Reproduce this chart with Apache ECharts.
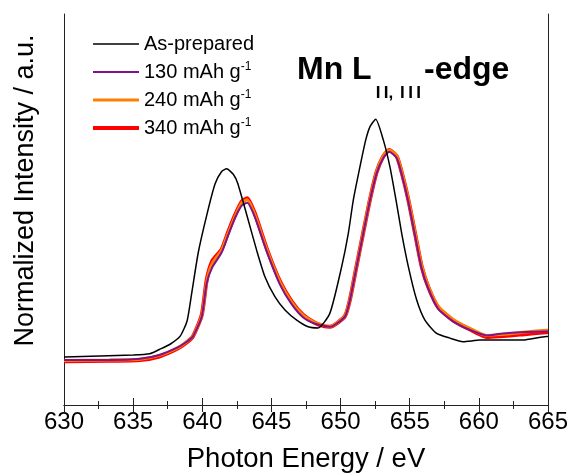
<!DOCTYPE html>
<html>
<head>
<meta charset="utf-8">
<script src="https://cdn.jsdelivr.net/npm/echarts@6/dist/echarts.min.js"></script>
<style>
  html, body { margin: 0; padding: 0; background: #fff; }
  #xasChart { width: 571px; height: 473px; }
</style>
</head>
<body>
<div id="xasChart"></div>
<script>
// As-prepared (black) — energy / intensity
const energyPristine = [630.0, 635.0, 636.2, 636.9, 637.7, 638.4, 638.9, 639.23, 639.71, 640.32, 640.92, 641.40, 641.76, 642.24, 642.56, 643.25, 643.93, 644.53, 645.25, 645.98, 646.83, 647.66, 648.37, 649.23, 650.08, 650.56, 650.92, 651.40, 651.82, 652.13, 652.54, 653.09, 653.57, 654.01, 654.42, 654.90, 655.50, 656.10, 656.95, 657.91, 658.85, 660.08, 660.59, 663.19, 664.90, 665.0]
const intPristine = [0.123, 0.128, 0.131, 0.142, 0.156, 0.176, 0.215, 0.285, 0.390, 0.485, 0.565, 0.597, 0.604, 0.590, 0.567, 0.482, 0.396, 0.328, 0.277, 0.243, 0.217, 0.200, 0.197, 0.235, 0.354, 0.439, 0.524, 0.609, 0.678, 0.712, 0.731, 0.678, 0.609, 0.524, 0.439, 0.354, 0.269, 0.217, 0.183, 0.171, 0.162, 0.166, 0.166, 0.166, 0.175, 0.175]

// charged samples share one energy grid
const energyCharged = [630.0, 633.3, 635.5, 636.9, 638.15, 638.8, 639.33, 639.96, 640.32, 640.72, 641.40, 641.88, 642.36, 642.85, 643.25, 643.81, 644.66, 645.62, 646.46, 647.30, 648.15, 648.87, 649.23, 650.31, 650.68, 651.16, 651.64, 652.13, 652.61, 653.09, 653.52, 654.06, 654.42, 654.90, 655.38, 655.86, 656.34, 657.06, 658.15, 659.36, 660.56, 661.53, 662.97, 664.90, 665.0]
const int130 = [0.115, 0.115, 0.118, 0.128, 0.146, 0.160, 0.176, 0.226, 0.312, 0.352, 0.390, 0.435, 0.478, 0.510, 0.517, 0.480, 0.393, 0.308, 0.258, 0.224, 0.208, 0.202, 0.200, 0.226, 0.269, 0.354, 0.439, 0.524, 0.593, 0.632, 0.648, 0.632, 0.590, 0.520, 0.434, 0.350, 0.298, 0.246, 0.214, 0.192, 0.178, 0.182, 0.186, 0.188, 0.188]
const int240 = [0.114, 0.115, 0.117, 0.127, 0.145, 0.160, 0.177, 0.228, 0.316, 0.362, 0.396, 0.440, 0.482, 0.517, 0.525, 0.486, 0.398, 0.314, 0.263, 0.229, 0.211, 0.203, 0.201, 0.228, 0.271, 0.356, 0.442, 0.527, 0.597, 0.637, 0.652, 0.638, 0.597, 0.527, 0.442, 0.357, 0.304, 0.252, 0.219, 0.196, 0.178, 0.180, 0.185, 0.191, 0.191]
const int340 = [0.112, 0.113, 0.115, 0.124, 0.143, 0.158, 0.176, 0.230, 0.320, 0.368, 0.398, 0.443, 0.485, 0.520, 0.529, 0.489, 0.400, 0.316, 0.265, 0.230, 0.210, 0.201, 0.200, 0.227, 0.270, 0.356, 0.441, 0.526, 0.596, 0.636, 0.652, 0.636, 0.595, 0.525, 0.440, 0.355, 0.302, 0.250, 0.216, 0.193, 0.174, 0.176, 0.180, 0.186, 0.186]

const seriesNames = ['As-prepared', '130 mAh g-1', '240 mAh g-1', '340 mAh g-1']
const seriesColors = ['#000000', '#80128c', '#ff8000', '#ff0000']
const lineWidths = [1.5, 2, 3, 4]

function pairs(xs, ys) {
  return xs.map((x, i) => [x, ys[i]])
}

const chart = echarts.init(document.getElementById('xasChart'))

const font = 'Liberation Sans, Arial, sans-serif'
const axisColor = '#222'

function lineSeries(idx, xs, ys, z) {
  return {
    name: seriesNames[idx],
    type: 'line',
    symbol: 'none',
    smooth: 0.2,
    z: z,
    lineStyle: { color: seriesColors[idx], width: lineWidths[idx] },
    itemStyle: { color: seriesColors[idx] },
    data: pairs(xs, ys)
  }
}

chart.setOption({
  animation: false,
  textStyle: { fontFamily: font },
  // fixed plot box, names may sit outside it
  grid: { left: 64, right: 23, top: 14, bottom: 68, outerBoundsMode: 'none', containLabel: false },
  xAxis: [
    {
      type: 'value',
      min: 630,
      max: 665,
      interval: 5,
      name: 'Photon Energy / eV',
      nameLocation: 'middle',
      nameGap: 40,
      nameTextStyle: { fontSize: 27.5, color: '#000', fontFamily: font },
      axisLine: { lineStyle: { color: axisColor, width: 1 } },
      axisTick: { inside: true, length: 7, lineStyle: { color: axisColor } },
      minorTick: { show: true, splitNumber: 2, length: 4, lineStyle: { color: axisColor } },
      axisLabel: { fontSize: 24, color: '#000', margin: 5, fontFamily: font },
      splitLine: { show: false }
    },
    {
      type: 'value',
      position: 'top',
      min: 630,
      max: 665,
      interval: 5,
      axisLine: { lineStyle: { color: axisColor, width: 1 } },
      axisTick: { inside: true, length: 7, lineStyle: { color: axisColor } },
      minorTick: { show: true, splitNumber: 2, length: 4, lineStyle: { color: axisColor } },
      axisLabel: { show: false },
      splitLine: { show: false }
    }
  ],
  yAxis: [
    {
      type: 'value',
      min: 0,
      max: 1,
      name: 'Normalized Intensity / a.u.',
      nameLocation: 'middle',
      nameGap: 25,
      nameTextStyle: { fontSize: 27, color: '#000', fontFamily: font, padding: [0, 0, 0, 38] },
      axisLine: { show: true, lineStyle: { color: axisColor, width: 1 } },
      axisTick: { show: false },
      axisLabel: { show: false },
      splitLine: { show: false }
    },
    {
      type: 'value',
      position: 'right',
      min: 0,
      max: 1,
      axisLine: { show: true, lineStyle: { color: axisColor, width: 1 } },
      axisTick: { show: false },
      axisLabel: { show: false },
      splitLine: { show: false }
    }
  ],
  legend: {
    orient: 'vertical',
    left: 93,
    top: 34,
    padding: 0,
    itemWidth: 46,
    itemHeight: 14,
    itemGap: 7,
    symbolKeepAspect: true,
    // plain line icons, thickness as in the plot
    data: seriesNames.map((name, i) => ({
      name: name,
      icon: 'path://M0,0H46V' + lineWidths[i] + 'H0Z'
    })),
    formatter(name) {
      if (name.endsWith('g-1')) {
        return '{t|' + name.slice(0, -2) + '}{s|-1}'
      }
      return '{t|' + name + '}'
    },
    textStyle: {
      color: '#000',
      fontFamily: font,
      fontSize: 20,
      rich: {
        t: { fontSize: 20, lineHeight: 22, fontFamily: font, color: '#000' },
        s: { fontSize: 12, lineHeight: 12, verticalAlign: 'top', fontFamily: font, color: '#000' }
      }
    }
  },
  graphic: [
    {
      type: 'text',
      left: 297,
      top: 54,
      style: {
        text: '{b|Mn L}{sub|I\u2009I,\u2009\u2009I\u2009I\u2009I}{b|-edge}',
        fill: '#000',
        rich: {
          b: { fontSize: 32, fontWeight: 'bold', lineHeight: 34, verticalAlign: 'top', fontFamily: font, fill: '#000' },
          sub: { fontSize: 17, fontWeight: 'bold', lineHeight: 14, verticalAlign: 'top', padding: [31, 3, 0, 4], fontFamily: font, fill: '#000' }
        }
      }
    }
  ],
  series: [
    lineSeries(0, energyPristine, intPristine, 5),
    lineSeries(1, energyCharged, int130, 4),
    lineSeries(2, energyCharged, int240, 3),
    lineSeries(3, energyCharged, int340, 2)
  ]
})
</script>
</body>
</html>
